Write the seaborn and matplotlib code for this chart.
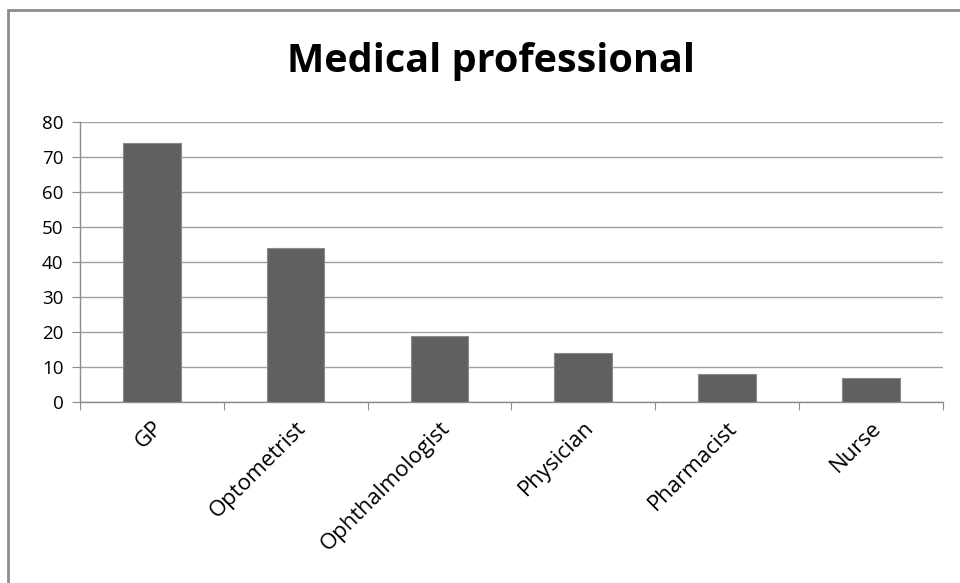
import pandas as pd
import matplotlib.pyplot as plt
import matplotlib.patches as mpatches
import seaborn as sb

professions = ['GP', 'Optometrist', 'Ophthalmologist', 'Physician', 'Pharmacist', 'Nurse']
counts = [74, 44, 19, 14, 8, 7]
y_ticks = [0, 10, 20, 30, 40, 50, 60, 70, 80]

data = pd.DataFrame({'profession': professions, 'count': counts})

sb.set_style('white')
plt.rcParams['font.family'] = ['Open Sans', 'DejaVu Sans']

fig = plt.figure(figsize=(9.6, 5.83), dpi=100)
ax = fig.add_axes([0.0833, 0.3104, 0.8987, 0.4803])

sb.barplot(data=data, x='profession', y='count', color='#606060', width=0.4,
           saturation=1, edgecolor='#8a8a8a', linewidth=0.8, ax=ax, zorder=3)

ax.set_ylim(0, 80)
ax.set_xlim(-0.5, len(professions) - 0.5)
ax.set_yticks(y_ticks)
ax.yaxis.grid(True, color='#a0a0a0', linewidth=1, zorder=0)
ax.set_axisbelow(True)
ax.set_xlabel('')
ax.set_ylabel('')

for side in ['top', 'right']:
    ax.spines[side].set_visible(False)
for side in ['left', 'bottom']:
    ax.spines[side].set_color('#8c8c8c')
    ax.spines[side].set_linewidth(1)

# category ticks sit between the bars, labels at the bar centres
ax.set_xticks([i + 0.5 for i in range(-1, len(professions))], minor=False)
ax.set_xticklabels([])
ax.set_xticks(range(len(professions)), minor=True)
ax.set_xticklabels(professions, minor=True, rotation=45, ha='right',
                   rotation_mode='anchor', fontsize=16, color='black')
ax.tick_params(axis='x', which='major', length=6, color='#8c8c8c', direction='out', bottom=True)
ax.tick_params(axis='x', which='minor', length=0, pad=11)
ax.tick_params(axis='y', length=6, color='#8c8c8c', direction='out', left=True,
               labelsize=13.5, labelcolor='black', pad=6)

fig.text(0.511, 0.894, 'Medical professional', ha='center', va='center',
         fontsize=28.5, fontweight='bold', color='black')

# outer chart frame
frame = mpatches.Rectangle((0.008, -0.05), 1.2, 1.033, transform=fig.transFigure,
                           fill=False, edgecolor='#8c8c8c', linewidth=2)
fig.patches.append(frame)

fig.savefig('out.png', dpi=100)
